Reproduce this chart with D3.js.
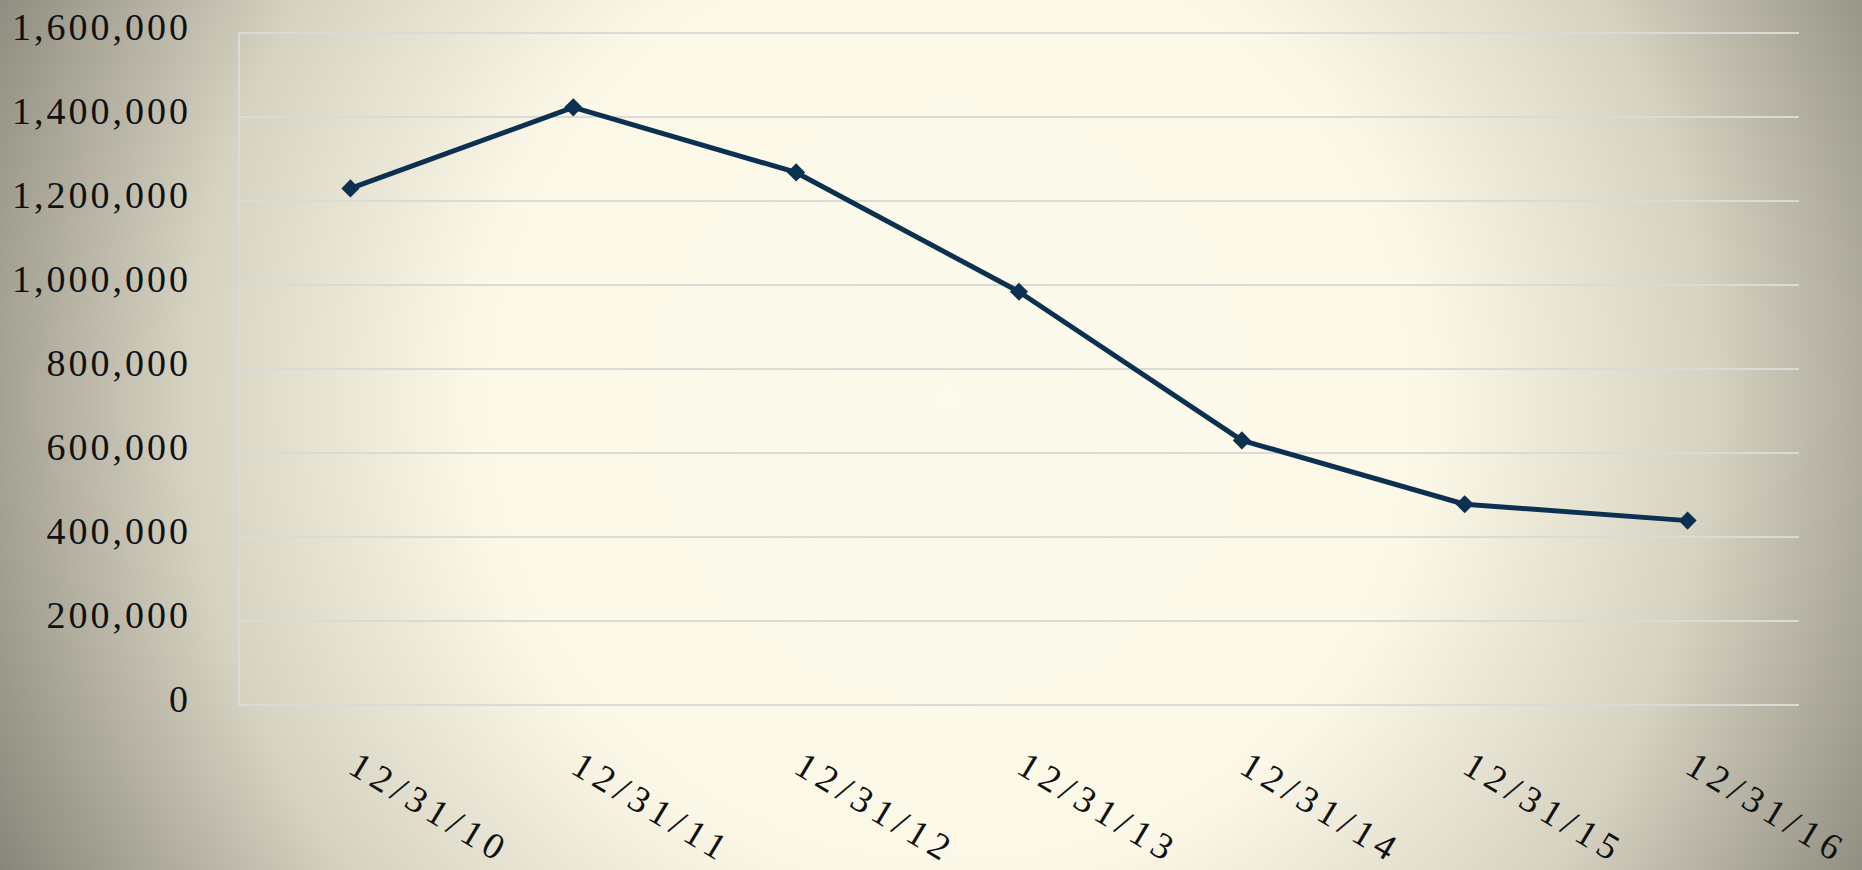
<!DOCTYPE html>
<meta charset="utf-8">
<style>
    body { margin: 0; }
    svg { display: block; }
</style>
<svg width="1862" height="870" font-family="'Liberation Serif', serif"></svg>
<script src="https://cdn.jsdelivr.net/npm/d3@7"></script>
<script>

    var dates = ["12/31/10", "12/31/11", "12/31/12", "12/31/13", "12/31/14", "12/31/15", "12/31/16"];
    var values = [1230000, 1423000, 1268000, 984000, 630000, 478000, 439000];
    var yTicks = [0, 200000, 400000, 600000, 800000, 1000000, 1200000, 1400000, 1600000];

    var svg = d3.select("svg"),
        width = +svg.attr("width"),
        height = +svg.attr("height"),
        margin = {top: 33, right: 63, bottom: 165, left: 239};

    // background glow
    var grad = svg.append("defs").append("radialGradient")
        .attr("id", "bg")
        .attr("gradientUnits", "userSpaceOnUse")
        .attr("cx", 950).attr("cy", 400).attr("r", 1060);
    grad.append("stop").attr("offset", 0).attr("stop-color", "#fcfaea");
    grad.append("stop").attr("offset", 0.45).attr("stop-color", "#fbf8e8");
    grad.append("stop").attr("offset", 0.72).attr("stop-color", "#d6d2c1");
    grad.append("stop").attr("offset", 1).attr("stop-color", "#88867a");

    svg.append("rect")
        .attr("width", width)
        .attr("height", height)
        .attr("fill", "url(#bg)");

    var x = d3.scaleBand()
        .domain(dates)
        .range([margin.left, width - margin.right]);

    var y = d3.scaleLinear()
        .domain([0, 1600000])
        .range([height - margin.bottom, margin.top]);

    // gridlines
    svg.append("g")
        .selectAll("line")
        .data(yTicks)
        .enter().append("line")
        .attr("x1", margin.left)
        .attr("x2", width - margin.right)
        .attr("y1", function (d) { return y(d); })
        .attr("y2", function (d) { return y(d); })
        .attr("stroke", "#dcdad6")
        .attr("stroke-width", 2);

    svg.append("line")
        .attr("x1", margin.left)
        .attr("x2", margin.left)
        .attr("y1", margin.top)
        .attr("y2", height - margin.bottom)
        .attr("stroke", "#dcdad6")
        .attr("stroke-width", 2);

    // y labels
    svg.append("g")
        .attr("text-anchor", "end")
        .attr("font-size", 38)
        .selectAll("text")
        .data(yTicks)
        .enter().append("text")
        .attr("x", 191)
        .attr("y", function (d) { return y(d) - 6; })
        .attr("dy", "0.35em")
        .attr("letter-spacing", 3)
        .attr("fill", "#111")
        .text(d3.format(","));

    // x labels
    svg.append("g")
        .attr("font-size", 37)
        .selectAll("text")
        .data(dates)
        .enter().append("text")
        .attr("transform", function (d) { return "translate(" + (x(d) + x.bandwidth() / 2 - 4) + ",772)rotate(31)"; })
        .attr("letter-spacing", 6)
        .attr("fill", "#111")
        .text(function (d) { return d; });

    var line = d3.line()
        .x(function (d, i) { return x(dates[i]) + x.bandwidth() / 2; })
        .y(function (d) { return y(d); });

    svg.append("path")
        .datum(values)
        .attr("fill", "none")
        .attr("stroke", "#0c3150")
        .attr("stroke-width", 5)
        .attr("stroke-linejoin", "round")
        .attr("d", line);

    svg.append("g")
        .selectAll("path")
        .data(values)
        .enter().append("path")
        .attr("transform", function (d, i) { return "translate(" + (x(dates[i]) + x.bandwidth() / 2) + "," + y(d) + ")"; })
        .attr("d", d3.symbol(d3.symbolDiamond2, 210))
        .attr("fill", "#0c3150");
</script>
